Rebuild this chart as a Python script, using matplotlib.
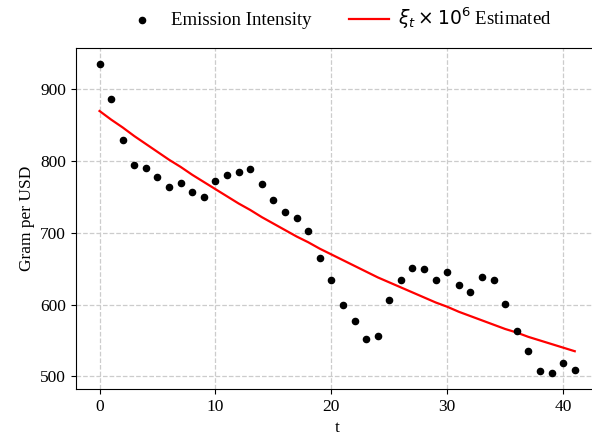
import numpy as np
import matplotlib
matplotlib.use("Agg")
import matplotlib.pyplot as plt

plt.rcParams['font.family'] = ['Liberation Serif', 'DejaVu Sans']
plt.rcParams['mathtext.fontset'] = 'dejavusans'

# observed emission intensity (gram per USD) by period
t = list(range(42))
intensity = [936, 887, 829, 794, 791, 778, 764, 769, 757, 750,
             772, 781, 785, 789, 768, 746, 729, 721, 702, 665,
             634, 600, 577, 552, 556, 606, 635, 651, 650, 635,
             645, 627, 617, 638, 634, 601, 563, 535, 508, 504,
             519, 509]
# fitted xi_t scaled by 1e6
estimated = [870, 858, 847, 835, 824, 813, 802, 792, 781, 771,
             761, 751, 741, 732, 722, 713, 704, 695, 687, 678,
             670, 662, 654, 646, 638, 631, 624, 617, 610, 603,
             597, 590, 584, 578, 572, 566, 561, 555, 550, 545,
             540, 535]

fig = plt.figure(figsize=(5.92, 4.38), dpi=100)
ax = fig.add_axes([0.128, 0.112, 0.883, 0.778])

ax.scatter(t, intensity, s=20, color='black', label='Emission Intensity', zorder=3)
ax.plot(t, estimated, color='red', lw=1.6, label=r'$\xi_t \times 10^6$ Estimated')

ax.grid(True, linestyle='--', color='#cccccc', linewidth=0.9)
ax.set_axisbelow(True)
ax.set_xticks([0, 10, 20, 30, 40])
ax.set_yticks([500, 600, 700, 800, 900])
ax.tick_params(labelsize=12.5)
ax.set_xlabel('t', fontsize=12.5)
ax.set_ylabel('Gram per USD', fontsize=12.5)

ax.legend(loc='lower center', bbox_to_anchor=(0.5, 1.0), ncol=2, frameon=False,
          fontsize=13.5, columnspacing=2.0, handlelength=2.1, handletextpad=0.5)

plt.savefig('out.png', dpi=100)
plt.close()
